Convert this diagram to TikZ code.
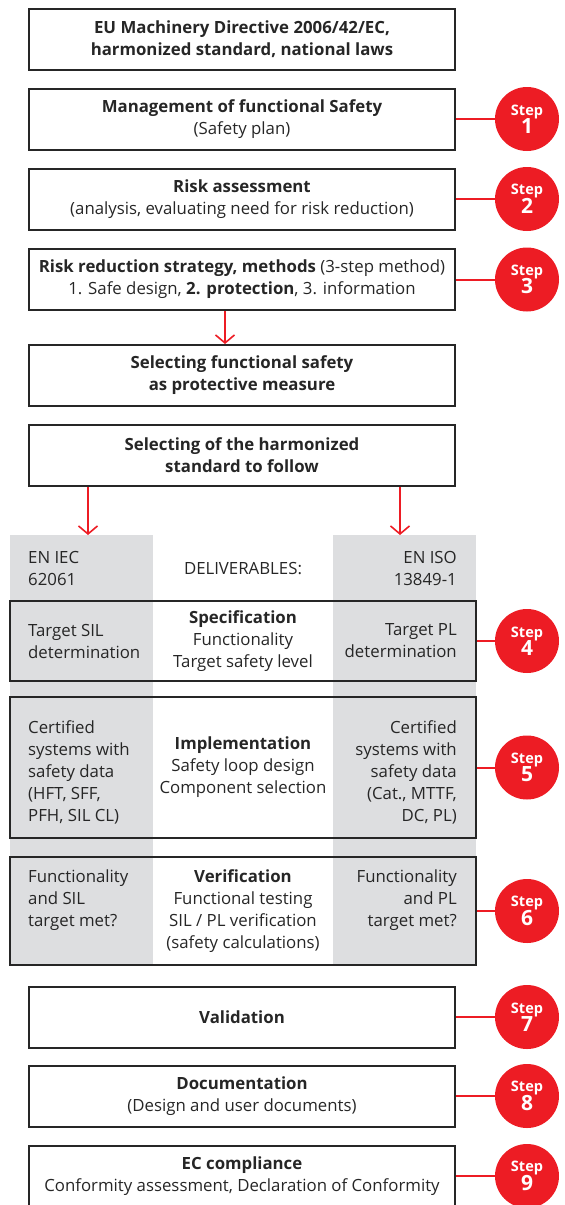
\documentclass[tikz,border=0pt]{standalone}
\usepackage{fontspec}
\setmainfont{Open Sans}
\usetikzlibrary{arrows.meta,positioning}

\definecolor{abbred}{RGB}{237,28,36}
\definecolor{colgray}{RGB}{221,222,224}
\definecolor{ink}{RGB}{38,38,38}

\newcommand{\bodyfont}{\fontsize{16.8}{22}\selectfont}
\tikzset{
  stagebox/.style={draw=ink, line width=2pt, minimum width=426pt, minimum height=61pt,
    align=center, text=ink, inner sep=0pt, font=\bodyfont},
  boldbox/.style={stagebox, font=\bodyfont\bfseries},
  phasebox/.style={draw=ink, line width=2pt, minimum width=466pt, align=center,
    text=ink, inner sep=0pt, font=\bodyfont},
  stdcol/.style={fill=colgray, minimum width=143pt, minimum height=430pt, inner sep=0pt},
  coltext/.style={text=ink, inner sep=0pt, font=\bodyfont},
  stepdot/.style={circle, fill=abbred, minimum size=64pt, inner sep=0pt, text=white,
    align=center, font=\bfseries},
  steplink/.style={abbred, line width=2pt},
  flow/.style={abbred, line width=1.6pt, -{Straight Barb[length=8pt,width=19pt]}},
}
\newcommand{\stepno}[1]{{\fontsize{14.5}{15}\selectfont Step}\\[-1pt]{\fontsize{21}{21}\selectfont #1}}

\begin{document}
\begin{tikzpicture}[x=1pt, y=-1pt]
  \useasboundingbox (0,0) rectangle (565,1205);

  % steps before the standard is chosen
  \node[boldbox] (law) at (242,39.5) {EU Machinery Directive 2006/42/EC,\\harmonized standard, national laws};
  \node[stagebox] (plan) at (242,119) {\textbf{Management of functional Safety}\\(Safety plan)};
  \node[stagebox] (risk) at (242,199) {\textbf{Risk assessment}\\(analysis, evaluating need for risk reduction)};
  \node[stagebox] (reduce) at (242,279.5) {\textbf{Risk reduction strategy, methods} (3-step method)\\1. Safe design, \textbf{2. protection}, 3. information};
  \node[boldbox] (choose) at (242,375.5) {Selecting functional safety\\as protective measure};
  \node[boldbox] (standard) at (242,455.5) {Selecting of the harmonized\\standard to follow};

  \draw[flow] ([xshift=-17pt]reduce.south) -- ([xshift=-17pt]choose.north);

  % the two standards
  \node[stdcol, anchor=north west] (iec) at (10,535) {};
  \node[stdcol, anchor=north east] (iso) at (476,535) {};
  \draw[flow] ([xshift=-154pt]standard.south) -- ([xshift=-154pt]standard.south |- iec.north);
  \draw[flow] ([xshift=158pt]standard.south) -- ([xshift=158pt]standard.south |- iso.north);

  \node[coltext, align=left, anchor=west] (iechead) at (28,568) {EN IEC\\62061};
  \node[coltext, align=right, anchor=east] (isohead) at (457,568) {EN ISO\\13849-1};
  \node[coltext] (deliv) at (243,569) {DELIVERABLES:};

  % deliverables
  \node[phasebox, minimum height=80pt] (spec) at (243,641) {\textbf{Specification}\\Functionality\\Target safety level};
  \node[coltext, align=left, anchor=west] (specl) at (28,641) {Target SIL\\determination};
  \node[coltext, align=right, anchor=east] (specr) at (457,641) {Target PL\\determination};

  \node[phasebox, minimum height=141pt] (impl) at (243,767.5) {\textbf{Implementation}\\Safety loop design\\Component selection};
  \node[coltext, align=left, anchor=west] (impll) at (28,772) {Certified\\systems with\\safety data\\(HFT, SFF,\\PFH, SIL CL)};
  \node[coltext, align=right, anchor=east] (implr) at (457,772) {Certified\\systems with\\safety data\\(Cat., MTTF,\\DC, PL)};

  \node[phasebox, minimum height=108pt] (verif) at (243,911) {\textbf{Verification}\\Functional testing\\SIL / PL verification\\(safety calculations)};
  \node[coltext, align=left, anchor=west] (verifl) at (28,900) {Functionality\\and SIL\\target met?};
  \node[coltext, align=right, anchor=east] (verifr) at (457,900) {Functionality\\and PL\\target met?};

  % closing steps
  \node[boldbox] (valid) at (242,1017) {Validation};
  \node[stagebox] (docs) at (242,1096) {\textbf{Documentation}\\(Design and user documents)};
  \node[stagebox] (ec) at (242,1176) {\textbf{EC compliance}\\Conformity assessment, Declaration of Conformity};

  % step markers
  \node[stepdot] (s1) at (527,119) {\stepno{1}};
  \node[stepdot] (s2) at (527,199) {\stepno{2}};
  \node[stepdot] (s3) at (527,279.5) {\stepno{3}};
  \node[stepdot] (s4) at (527,641) {\stepno{4}};
  \node[stepdot] (s5) at (527,767.5) {\stepno{5}};
  \node[stepdot] (s6) at (527,911) {\stepno{6}};
  \node[stepdot] (s7) at (527,1017) {\stepno{7}};
  \node[stepdot] (s8) at (527,1096) {\stepno{8}};
  \node[stepdot] (s9) at (527,1176) {\stepno{9}};

  \draw[steplink] (plan) -- (s1);
  \draw[steplink] (risk) -- (s2);
  \draw[steplink] (reduce) -- (s3);
  \draw[steplink] (spec) -- (s4);
  \draw[steplink] (impl) -- (s5);
  \draw[steplink] (verif) -- (s6);
  \draw[steplink] (valid) -- (s7);
  \draw[steplink] (docs) -- (s8);
  \draw[steplink] (ec) -- (s9);
\end{tikzpicture}
\end{document}
